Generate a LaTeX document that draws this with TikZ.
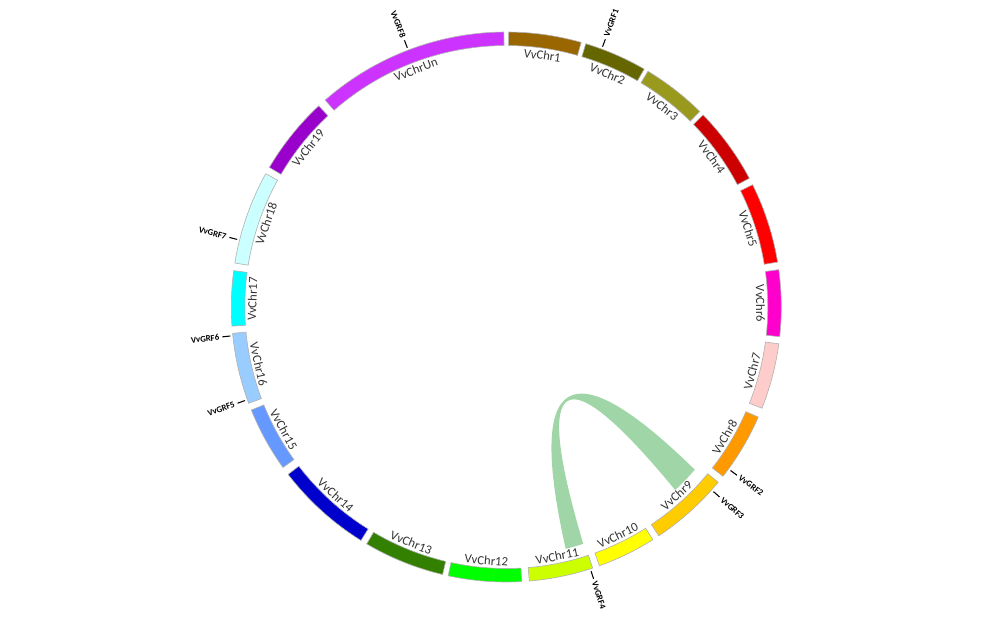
\documentclass[tikz,border=0pt]{standalone}
\usepackage{fontspec}
\setmainfont{Carlito}
\usetikzlibrary{calc}

\definecolor{chrA}{RGB}{153,102,0}
\definecolor{chrB}{RGB}{102,102,0}
\definecolor{chrC}{RGB}{153,153,30}
\definecolor{chrD}{RGB}{204,0,0}
\definecolor{chrE}{RGB}{255,0,0}
\definecolor{chrF}{RGB}{255,0,204}
\definecolor{chrG}{RGB}{255,204,204}
\definecolor{chrH}{RGB}{255,153,0}
\definecolor{chrI}{RGB}{255,204,0}
\definecolor{chrJ}{RGB}{255,255,0}
\definecolor{chrK}{RGB}{204,255,0}
\definecolor{chrL}{RGB}{0,255,0}
\definecolor{chrM}{RGB}{51,128,0}
\definecolor{chrN}{RGB}{0,0,204}
\definecolor{chrO}{RGB}{102,153,255}
\definecolor{chrP}{RGB}{153,204,255}
\definecolor{chrQ}{RGB}{0,255,255}
\definecolor{chrR}{RGB}{204,255,255}
\definecolor{chrS}{RGB}{153,0,204}
\definecolor{chrU}{RGB}{204,51,255}
\definecolor{linkgreen}{RGB}{160,214,167}

\begin{document}
\begin{tikzpicture}[
    x=0.02cm, y=0.02cm,
    chrom/.style={draw=gray!60, line width=0.35pt},
    chrlab/.style={font=\fontsize{7.2}{8}\selectfont, text=black!80, inner sep=0.6pt},
    genetick/.style={line width=0.6pt},
    genelab/.style={font=\fontsize{5}{6}\selectfont\bfseries, inner sep=0.8pt},
    link/.style={fill=linkgreen, draw=none}
  ]
  \useasboundingbox (-506.3,-318) rectangle (493.7,307);
  \coordinate (O) at (0,0);

  % collinear pair VvGRF3 / VvGRF4
  \coordinate (ctl) at (0,22);
  \coordinate (a1) at (-76.2:249);
  \coordinate (a2) at (-72:249);
  \coordinate (b1) at (-47.3:249);
  \coordinate (b2) at (-40.8:249);
  \fill[link] (a2) .. controls ($(a2)!0.667!(ctl)$) and ($(b1)!0.667!(ctl)$) .. (b1)
    arc[start angle=-47.3, end angle=-40.8, radius=249]
    .. controls ($(b2)!0.667!(ctl)$) and ($(a1)!0.667!(ctl)$) .. (a1)
    arc[start angle=-76.2, end angle=-72, radius=249] -- cycle;

  % chromosomes
  \foreach \chr/\a/\b/\col/\f/\anc in {
      VvChr1/0.5/15.8/chrA/0/north, VvChr2/16.8/30.1/chrB/0/north,
      VvChr3/31.0/44.7/chrC/0/north, VvChr4/45.7/62.1/chrD/0/north,
      VvChr5/63.6/80.6/chrE/0/north, VvChr6/82.2/96.2/chrF/0/north,
      VvChr7/97.7/111.6/chrG/180/south, VvChr8/113.6/128.0/chrH/180/south,
      VvChr9/129.6/146.3/chrI/180/south, VvChr10/147.8/160.2/chrJ/180/south,
      VvChr11/161.7/175.2/chrK/180/south, VvChr12/176.8/192.2/chrL/180/south,
      VvChr13/193.4/210.5/chrM/180/south, VvChr14/211.9/232.5/chrN/180/south,
      VvChr15/234.3/248.0/chrO/180/south, VvChr16/249.5/264.5/chrP/180/south,
      VvChr17/266.0/277.6/chrQ/0/north, VvChr18/279.2/299.0/chrR/0/north,
      VvChr19/300.5/317.0/chrS/0/north, VvChrUn/318.8/359.5/chrU/0/north}{
    \pgfmathsetmacro\mid{(\a+\b)/2}
    \draw[chrom, fill=\col] ({90-\a}:275) arc[start angle={90-\a}, end angle={90-\b}, radius=275]
      -- ({90-\b}:261.5) arc[start angle={90-\b}, end angle={90-\a}, radius=261.5] -- cycle;
    \node[chrlab, anchor=\anc, rotate=\f-\mid] (\chr) at ({90-\mid}:260) {\chr};
  }

  % gene positions
  \foreach \g/\t/\rot/\anc in {
      VvGRF1/20.3/69.7/west, VvGRF2/126.1/-36.1/west,
      VvGRF3/131.7/-41.7/west, VvGRF4/162.2/-72.2/west,
      VvGRF5/250.3/19.7/east, VvGRF6/264.0/6.0/east,
      VvGRF7/284.1/-14.1/east, VvGRF8/339.1/-69.1/east}{
    \draw[genetick] ({90-\t}:277.5) -- ({90-\t}:285.5);
    \node[genelab, anchor=\anc, rotate=\rot] (\g) at ({90-\t}:287) {\g};
  }
\end{tikzpicture}
\end{document}
